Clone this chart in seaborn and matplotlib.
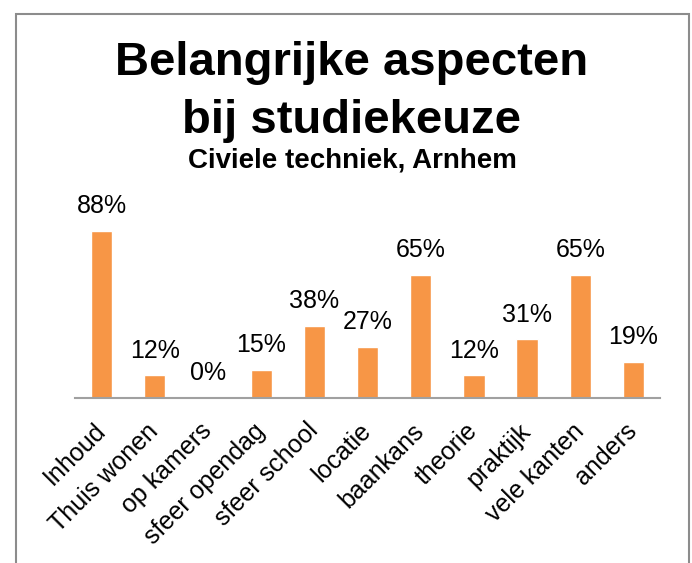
import matplotlib
matplotlib.use("Agg")
import matplotlib.pyplot as plt
import matplotlib.patches as mpatches
import pandas as pd
import seaborn as sns

categories = ["Inhoud", "Thuis wonen", "op kamers", "sfeer opendag", "sfeer school",
              "locatie", "baankans", "theorie", "praktijk", "vele kanten", "anders"]
values = [0.88, 0.12, 0.00, 0.15, 0.38, 0.27, 0.65, 0.12, 0.31, 0.65, 0.19]
title_lines = ["Belangrijke aspecten", "bij studiekeuze"]
subtitle = "Civiele techniek, Arnhem"

df = pd.DataFrame({"aspect": categories, "share": values})

sns.set_style("white")
plt.rcParams['font.family'] = ['Liberation Sans', 'DejaVu Sans']
plt.rcParams['text.color'] = 'black'
plt.rcParams['xtick.color'] = 'black'

W, H = 692, 563
fig = plt.figure(figsize=(W / 100, H / 100), dpi=100)
ax = fig.add_axes([75 / W, 1 - 398 / H, (660 - 75) / W, (398 - 208) / H])

sns.barplot(data=df, x="aspect", y="share", color="#F79646", saturation=1,
            width=0.4, ax=ax)
ax.set_ylim(0, 1.0)
ax.set_xlim(-0.5, len(categories) - 0.5)

for i, v in enumerate(values):
    ax.annotate(f"{round(v * 100)}%", (i, v), xytext=(0, 9), textcoords="offset points",
                ha="center", va="bottom", fontsize=18, annotation_clip=False)

ax.set_yticks([])
ax.set_xlabel("")
ax.set_ylabel("")
for s in ["top", "right", "left"]:
    ax.spines[s].set_visible(False)
ax.spines["bottom"].set_color("#A0A0A0")
ax.spines["bottom"].set_linewidth(1.5)
ax.tick_params(axis="x", length=0, pad=21)
ax.set_xticks(range(len(categories)))
ax.set_xticklabels(categories, rotation=45, ha="right", va="center",
                   rotation_mode="anchor", fontsize=18)

fig.text(352 / W, 1 - 75 / H, title_lines[0], ha="center", va="baseline",
         fontsize=34, fontweight="bold")
fig.text(352 / W, 1 - 133 / H, title_lines[1], ha="center", va="baseline",
         fontsize=34, fontweight="bold")
fig.text(352 / W, 1 - 167 / H, subtitle, ha="center", va="baseline",
         fontsize=20, fontweight="bold")

border = mpatches.Rectangle((16 / W, -0.1), (689 - 16) / W, 1.1 - 14 / H,
                            transform=fig.transFigure, fill=False,
                            edgecolor="#8C8C8C", linewidth=1.5)
fig.patches.append(border)

fig.savefig("out.png", dpi=100)
